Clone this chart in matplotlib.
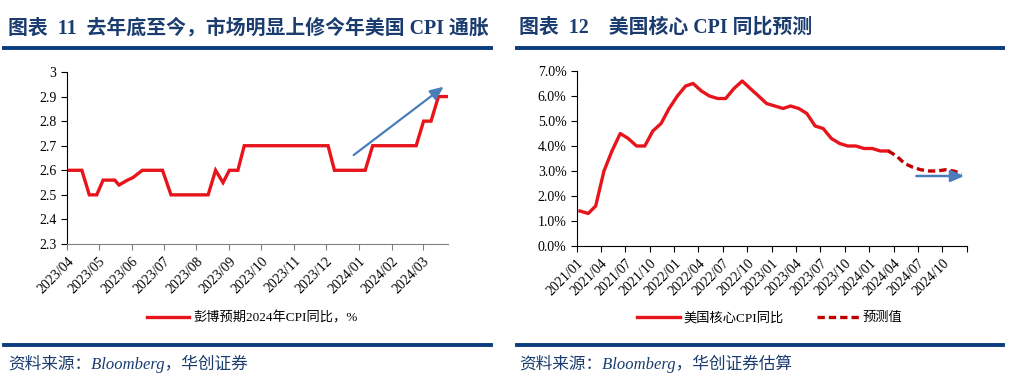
import matplotlib
matplotlib.use("Agg")
import matplotlib.pyplot as plt
import pandas as pd
import numpy as np

plt.rcParams['font.family'] = ['Liberation Serif', 'Noto Sans CJK SC']

# ---------- data: left chart ----------
left_dates = ['2023-04-01', '2023-04-15', '2023-04-22', '2023-04-29', '2023-05-05',
              '2023-05-16', '2023-05-20', '2023-05-28', '2023-06-02', '2023-06-11',
              '2023-06-30', '2023-07-08', '2023-08-12', '2023-08-19', '2023-08-26',
              '2023-09-01', '2023-09-09', '2023-09-15', '2023-12-03', '2023-12-09',
              '2024-01-07', '2024-01-14', '2024-02-24', '2024-03-02', '2024-03-09',
              '2024-03-16', '2024-03-24']
left_values = [2.6, 2.6, 2.5, 2.5, 2.56, 2.56, 2.54, 2.56, 2.57, 2.6,
               2.6, 2.5, 2.5, 2.6, 2.55, 2.6, 2.6, 2.7, 2.7, 2.6,
               2.6, 2.7, 2.7, 2.8, 2.8, 2.9, 2.9]
left_yticks = [2.3, 2.4, 2.5, 2.6, 2.7, 2.8, 2.9, 3.0]
left_ylabels = ['2.3', '2.4', '2.5', '2.6', '2.7', '2.8', '2.9', '3']
left_arrow = (('2023-12-25', 2.655), ('2024-03-23', 2.947))

# ---------- data: right chart ----------
core_months = pd.date_range('2021-01-01', periods=39, freq='MS') + pd.Timedelta(days=11)
core_values = [1.4, 1.3, 1.6, 3.0, 3.8, 4.5, 4.3, 4.0, 4.0, 4.6, 4.9, 5.5,
               6.0, 6.4, 6.5, 6.2, 6.0, 5.9, 5.9, 6.3, 6.6, 6.3, 6.0, 5.7,
               5.6, 5.5, 5.6, 5.5, 5.3, 4.8, 4.7, 4.3, 4.1, 4.0, 4.0, 3.9,
               3.9, 3.8, 3.8]
fc_months = pd.date_range('2024-03-01', periods=10, freq='MS') + pd.Timedelta(days=11)
fc_values = [3.8, 3.6, 3.3, 3.15, 3.05, 3.0, 3.0, 3.05, 3.0, 2.9]
right_arrow = (('2024-06-15', 2.8), ('2025-01-01', 2.8))

navy = '#1b3c6e'
rule = '#0b3c7d'

fig = plt.figure(figsize=(10.23, 3.88), dpi=100)

# ---------- titles / rules / sources ----------
fig.text(8/1023, 1-28/388, '图表  11  去年底至今，市场明显上修今年美国 CPI 通胀',
         fontsize=14.3, fontweight='bold', color=navy, va='center', ha='left')
fig.text(519/1023, 1-28/388, '图表  12    美国核心 CPI 同比预测',
         fontsize=14.3, fontweight='bold', color=navy, va='center', ha='left')
for x0, x1 in [(4, 491), (517, 1003)]:
    fig.add_artist(plt.Line2D([x0/1023, x1/1023], [1-48/388, 1-48/388], color=rule, lw=2.8))
    fig.add_artist(plt.Line2D([x0/1023, x1/1023], [1-345/388, 1-345/388], color=rule, lw=2.8))
fig.text(8/1023, 1-364/388, '资料来源：Bloomberg，华创证券', fontsize=12, style='italic',
         color=navy, va='center', ha='left')
fig.text(519/1023, 1-364/388, '资料来源：Bloomberg，华创证券估算', fontsize=12, style='italic',
         color=navy, va='center', ha='left')

# ---------- left chart ----------
axL = fig.add_axes([67/1023, 1-244/388, (448-67)/1023, (244-72)/388])
xl = pd.to_datetime(left_dates)
lineL, = axL.plot(xl, left_values, color='#e8141c', lw=2.4, solid_joinstyle='miter')
axL.set_ylim(2.3, 3.0)
axL.set_yticks(left_yticks)
axL.set_yticklabels(left_ylabels)
axL.set_xlim(pd.Timestamp('2023-04-01'), pd.Timestamp('2024-03-25'))
ticksL = pd.date_range('2023-04-01', '2024-03-01', freq='MS')
axL.set_xticks(ticksL)
axL.set_xticklabels([d.strftime('%Y/%m') for d in ticksL], rotation=45, ha='right',
                    rotation_mode='anchor')
for s in ['top', 'right']:
    axL.spines[s].set_visible(False)
axL.spines['left'].set_color('black')
axL.spines['bottom'].set_color('#808080')
axL.tick_params(axis='both', labelsize=10, direction='out', length=4, width=0.8)
axL.tick_params(axis='x', colors='#808080', labelcolor='black')
(a0, a1) = left_arrow
axL.annotate('', xy=(pd.Timestamp(a1[0]), a1[1]), xytext=(pd.Timestamp(a0[0]), a0[1]),
             arrowprops=dict(arrowstyle='-|>,head_length=0.8,head_width=0.35',
                             color='#4a7ebb', lw=1.6))
legL = fig.legend([lineL], ['彭博预期2024年CPI同比，%'], loc='center',
                  bbox_to_anchor=(252/1023, 1-318/388), frameon=False, fontsize=9.5,
                  handlelength=3.2, handletextpad=0.3)

# ---------- right chart ----------
axR = fig.add_axes([577/1023, 1-246/388, (967-577)/1023, (246-71)/388])
lineR, = axR.plot(core_months, core_values, color='#e8141c', lw=2.4)
lineF, = axR.plot(fc_months, fc_values, color='#c00000', lw=2.4, ls=(0, (2.2, 1.2)))
axR.set_ylim(0, 7.0)
yt = np.arange(0, 8, 1.0)
axR.set_yticks(yt)
axR.set_yticklabels([f'{v:.1f}%' for v in yt])
axR.set_xlim(pd.Timestamp('2021-01-01'), pd.Timestamp('2025-01-01'))
ticksR = pd.date_range('2021-01-01', '2025-01-01', freq='3MS')
axR.set_xticks(ticksR)
axR.set_xticklabels([d.strftime('%Y/%m') if d.year < 2025 else '' for d in ticksR],
                    rotation=45, ha='right', rotation_mode='anchor')
for s in ['top', 'right']:
    axR.spines[s].set_visible(False)
axR.tick_params(axis='both', labelsize=10, direction='out', length=4, width=0.8)
(b0, b1) = right_arrow
axR.annotate('', xy=(pd.Timestamp(b1[0]), b1[1]), xytext=(pd.Timestamp(b0[0]), b0[1]),
             arrowprops=dict(arrowstyle='-|>,head_length=0.8,head_width=0.35',
                             color='#4a7ebb', lw=1.8))
legR = fig.legend([lineR, lineF], ['美国核心CPI同比', '预测值'], loc='center',
                  bbox_to_anchor=(770/1023, 1-318/388), frameon=False, fontsize=9.5,
                  ncol=2, handlelength=3.2, handletextpad=0.3, columnspacing=2.5)

fig.savefig('out.png', dpi=100)
